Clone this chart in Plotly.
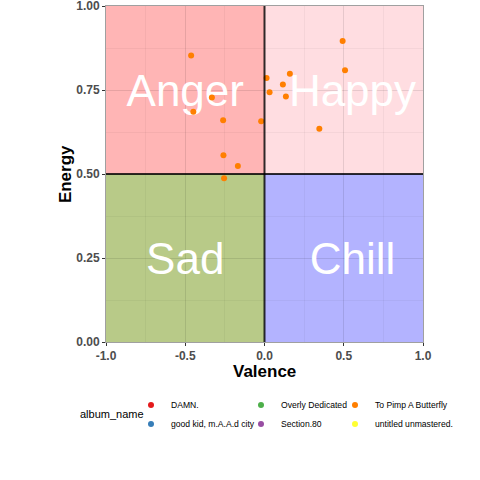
import plotly.graph_objects as go

# ---- data ----
albums = ["DAMN.", "good kid, m.A.A.d city", "Overly Dedicated",
          "Section.80", "To Pimp A Butterfly", "untitled unmastered."]
album_colors = ["#E41A1C", "#377EB8", "#4DAF4A", "#984EA3", "#FF7F00", "#FFFF33"]

tpab_valence = [-0.463, -0.332, -0.449, -0.261, -0.259, -0.168, -0.255, -0.021,
                0.013, 0.032, 0.160, 0.116, 0.135, 0.493, 0.508, 0.346]
tpab_energy = [0.853, 0.728, 0.685, 0.660, 0.556, 0.524, 0.487, 0.657,
               0.786, 0.743, 0.798, 0.766, 0.731, 0.896, 0.809, 0.635]

# albums with no points inside the visible window
album_valence = {a: [None] for a in albums}
album_energy = {a: [None] for a in albums}
album_valence["To Pimp A Butterfly"] = tpab_valence
album_energy["To Pimp A Butterfly"] = tpab_energy

quad_labels = ["Anger", "Happy", "Sad", "Chill"]
quad_label_x = [-0.5, 0.555, -0.5, 0.555]
quad_label_y = [0.75, 0.75, 0.25, 0.25]
quad_x0 = [-1, 0, -1, 0]
quad_x1 = [0, 1, 0, 1]
quad_y0 = [0.5, 0.5, 0, 0]
quad_y1 = [1, 1, 0.5, 0.5]
quad_colors = ["#FFB5B5", "#FFDDE1", "#B8CA88", "#B3B3FF"]

x_ticks = [-1.0, -0.5, 0.0, 0.5, 1.0]
x_ticklabels = ["-1.0", "-0.5", "0.0", "0.5", "1.0"]
y_ticks = [0.0, 0.25, 0.5, 0.75, 1.0]
y_ticklabels = ["0.00", "0.25", "0.50", "0.75", "1.00"]

FONT = "Liberation Sans, Arial, sans-serif"
LABEL_DY = -0.016  # optical centring of the big labels

fig = go.Figure()

# quadrant labels drawn below the points
fig.add_trace(go.Scatter(
    x=quad_label_x, y=[v + LABEL_DY for v in quad_label_y], text=quad_labels,
    mode="text", textposition="middle center", showlegend=False, hoverinfo="skip",
    textfont=dict(family=FONT, size=44, color="white")))

# legend columns (ggplot fills column-wise)
legend_of = {albums[0]: "legend", albums[1]: "legend",
             albums[2]: "legend2", albums[3]: "legend2",
             albums[4]: "legend3", albums[5]: "legend3"}

for a, c in zip(albums, album_colors):
    fig.add_trace(go.Scatter(
        x=album_valence[a], y=album_energy[a], mode="markers", name=a,
        marker=dict(color=c, size=6), legend=legend_of[a], showlegend=True))

shapes = []
for x0, x1, y0, y1, col in zip(quad_x0, quad_x1, quad_y0, quad_y1, quad_colors):
    shapes.append(dict(type="rect", xref="x", yref="y", x0=x0, x1=x1, y0=y0, y1=y1,
                       fillcolor=col, line=dict(width=0), layer="below"))
shapes.append(dict(type="line", xref="x", yref="y", x0=0, x1=0, y0=0, y1=1,
                   line=dict(color="rgba(0,0,0,0.8)", width=2), layer="above"))
shapes.append(dict(type="line", xref="x", yref="y", x0=-1, x1=1, y0=0.5, y1=0.5,
                   line=dict(color="rgba(0,0,0,0.8)", width=2), layer="above"))

annotations = []
annotations.append(dict(x=-0.088, y=-0.213, xref="paper", yref="paper",
                        xanchor="left", yanchor="middle", text="album_name",
                        showarrow=False, font=dict(family=FONT, size=11, color="black")))
annotations.append(dict(x=0.5, y=-0.089, xref="paper", yref="paper",
                        xanchor="center", yanchor="middle", text="<b>Valence</b>",
                        showarrow=False, font=dict(family=FONT, size=17, color="black")))
annotations.append(dict(x=-0.129, y=0.5, xref="paper", yref="paper",
                        xanchor="center", yanchor="middle", text="<b>Energy</b>",
                        textangle=-90, showarrow=False,
                        font=dict(family=FONT, size=17, color="black")))

fig.update_layout(
    width=480, height=480,
    margin=dict(l=106, r=57, t=6, b=138, autoexpand=False),
    paper_bgcolor="white", plot_bgcolor="white",
    font=dict(family=FONT),
    shapes=shapes, annotations=annotations,
    xaxis=dict(range=[-1, 1], tickvals=x_ticks, ticktext=x_ticklabels,
               showgrid=True, gridcolor="rgba(0,0,0,0.06)", gridwidth=1,
               minor=dict(dtick=0.25, tick0=0, showgrid=True,
                          gridcolor="rgba(0,0,0,0.04)", gridwidth=0.5),
               zeroline=False, showline=True, mirror=True, linecolor="#A0A0A0",
               linewidth=1, ticks="outside", ticklen=3, tickcolor="#333333",
               ticklabeloverflow="allow",
               tickfont=dict(family=FONT, size=12, color="#4D4D4D", weight="bold")),
    yaxis=dict(range=[0, 1], tickvals=y_ticks, ticktext=y_ticklabels,
               showgrid=True, gridcolor="rgba(0,0,0,0.06)", gridwidth=1,
               minor=dict(dtick=0.125, tick0=0, showgrid=True,
                          gridcolor="rgba(0,0,0,0.04)", gridwidth=0.5),
               zeroline=False, showline=True, mirror=True, linecolor="#A0A0A0",
               linewidth=1, ticks="outside", ticklen=3, tickcolor="#333333",
               ticklabeloverflow="allow",
               tickfont=dict(family=FONT, size=12, color="#4D4D4D", weight="bold")),
)

leg_common = dict(orientation="v", xref="container", yref="container",
                  yanchor="top", xanchor="left", y=1 - 390.5 / 480,
                  bgcolor="rgba(0,0,0,0)",
                  font=dict(family=FONT, size=8.6, color="black"),
                  tracegroupgap=0)
fig.update_layout(
    legend=dict(x=131 / 480, **leg_common),
    legend2=dict(x=241 / 480, **leg_common),
    legend3=dict(x=335 / 480, **leg_common),
)

fig.write_html("out.html", config={"displayModeBar": False},
               post_script="document.body.style.margin='0';document.body.style.padding='0';")
